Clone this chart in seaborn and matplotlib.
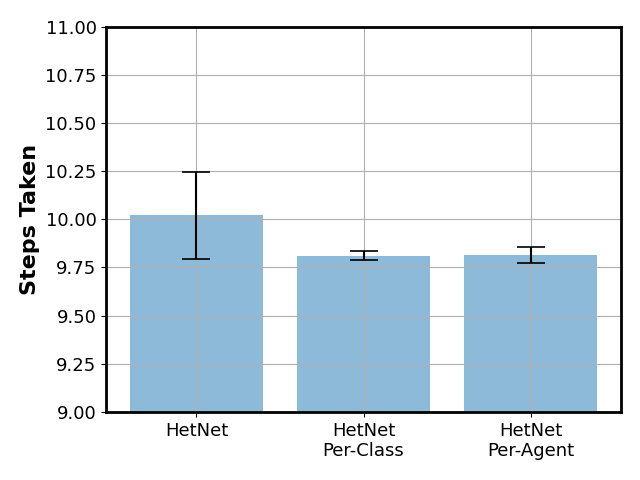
import pandas as pd
import matplotlib
matplotlib.use("Agg")
import matplotlib.pyplot as plt
import seaborn as sns

# data
methods = ["HetNet", "HetNet\nPer-Class", "HetNet\nPer-Agent"]
steps_mean = [10.022, 9.812, 9.815]
steps_err = [0.226, 0.022, 0.041]

df = pd.DataFrame({"method": methods, "steps": steps_mean, "err": steps_err})

fig, ax = plt.subplots(figsize=(6.4, 4.8), dpi=100)
sns.barplot(data=df, x="method", y="steps", color="#1f77b4", alpha=0.5,
            saturation=1, width=0.8, errorbar=None, ax=ax)
ax.errorbar(range(len(df)), df["steps"], yerr=df["err"], fmt="none",
            ecolor="black", elinewidth=1.5, capsize=10, capthick=1.2)

ax.set_ylim(9.0, 11.0)
ax.set_xlim(-0.54, 2.54)
ax.set_xlabel("")
ax.set_ylabel("Steps Taken", fontsize=16, fontweight="bold")
ax.tick_params(axis="both", labelsize=13)
ax.grid(True)
for sp in ax.spines.values():
    sp.set_linewidth(2)

fig.subplots_adjust(left=0.166, right=0.970, top=0.944, bottom=0.142)
fig.savefig("out.png", dpi=100)
